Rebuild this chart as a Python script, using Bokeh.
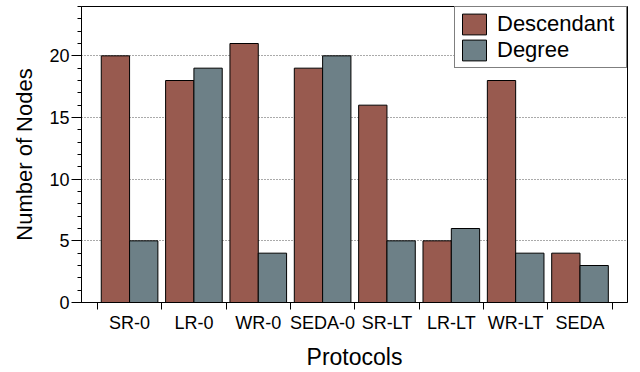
from bokeh.plotting import figure
from bokeh.models import FixedTicker, Legend, LegendItem, Range1d, ColumnDataSource
from bokeh.embed import file_html
from bokeh.resources import INLINE

protocols = ["SR-0", "LR-0", "WR-0", "SEDA-0", "SR-LT", "LR-LT", "WR-LT", "SEDA"]
descendant = [20, 18, 21, 19, 16, 5, 18, 4]
degree = [5, 19, 4, 20, 5, 6, 4, 3]
y_ticks = [0, 5, 10, 15, 20]

FONT = "Liberation Sans"
RED = "#985A4F"
GRAY = "#6D8087"

centers = list(range(1, len(protocols) + 1))
bw = 0.44
src = ColumnDataSource(dict(
    xd=[c - bw / 2 for c in centers],
    xg=[c + bw / 2 for c in centers],
    desc=descendant, deg=degree))

p = figure(width=640, height=372, output_backend="svg", toolbar_location=None,
           x_range=Range1d(0.253, 8.738), y_range=Range1d(0, 24))
p.min_border_left = 81
p.min_border_right = 13
p.min_border_top = 6
p.min_border_bottom = 68
p.outline_line_color = "black"
p.outline_line_width = 1
p.background_fill_color = "white"
p.border_fill_color = "white"

rd = p.vbar(x="xd", top="desc", width=bw, bottom=0, source=src,
            fill_color=RED, line_color="black", line_width=1)
rg = p.vbar(x="xg", top="deg", width=bw, bottom=0, source=src,
            fill_color=GRAY, line_color="black", line_width=1)

# grid
p.xgrid.visible = False
p.ygrid.ticker = FixedTicker(ticks=y_ticks)
p.ygrid.grid_line_color = "#555555"
p.ygrid.grid_line_dash = "1 2"
p.ygrid.grid_line_width = 1

# x axis
xa = p.xaxis[0]
xa.ticker = FixedTicker(ticks=centers, minor_ticks=[c - 0.5 for c in centers] + [centers[-1] + 0.5])
xa.major_label_overrides = {c: name for c, name in zip(centers, protocols)}
xa.major_tick_out = 0
xa.major_tick_in = 0
xa.minor_tick_out = 7
xa.minor_tick_in = 0
xa.minor_tick_line_color = "black"
xa.axis_line_color = "black"
xa.major_label_text_font = FONT
xa.major_label_text_font_size = "18px"
xa.major_label_text_color = "black"
xa.major_label_standoff = 3
xa.axis_label = "Protocols"
xa.axis_label_text_font = FONT
xa.axis_label_text_font_size = "23px"
xa.axis_label_text_font_style = "normal"
xa.axis_label_text_color = "black"
xa.axis_label_standoff = 8

# y axis
ya = p.yaxis[0]
ya.ticker = FixedTicker(ticks=y_ticks, minor_ticks=list(range(0, 25)))
ya.major_tick_out = 10
ya.major_tick_in = 0
ya.minor_tick_out = 4
ya.minor_tick_in = 0
ya.major_tick_line_color = "black"
ya.minor_tick_line_color = "black"
ya.axis_line_color = "black"
ya.major_label_text_font = FONT
ya.major_label_text_font_size = "18px"
ya.major_label_text_color = "black"
ya.major_label_standoff = 2
ya.axis_label = "Number of Nodes"
ya.axis_label_text_font = FONT
ya.axis_label_text_font_size = "22px"
ya.axis_label_text_font_style = "normal"
ya.axis_label_text_color = "black"
ya.axis_label_standoff = 9

legend = Legend(items=[LegendItem(label="Descendant", renderers=[rd]),
                       LegendItem(label="Degree", renderers=[rg])],
                location="top_right")
legend.margin = 0
legend.padding = 4
legend.spacing = 0
legend.glyph_width = 30
legend.glyph_height = 26
legend.label_standoff = 8
legend.label_width = 125
legend.label_text_font = FONT
legend.label_text_font_size = "22px"
legend.label_text_color = "black"
legend.border_line_color = "black"
legend.border_line_width = 1
legend.background_fill_alpha = 1.0
p.add_layout(legend)

open("out.html", "w").write(file_html(p, INLINE))
